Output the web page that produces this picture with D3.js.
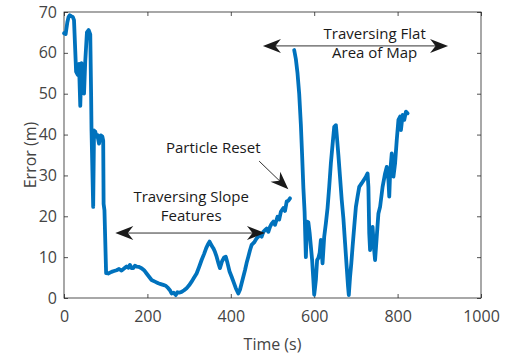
<!DOCTYPE html>
<html>
<head>
<meta charset="utf-8">
<script src="https://cdn.jsdelivr.net/npm/d3@7"></script>
<style>
  html, body { margin: 0; padding: 0; background: #fff; }
  svg { display: block; font-family: "Open Sans", sans-serif; }
</style>
</head>
<body>
<svg id="chart" width="507" height="356"></svg>
<script>
// Localisation error over time; null marks the particle reset (break in the trace).
const timeS = [
  0, 4, 8, 11, 14, 17, 21, 24, 29, 33, 36, 39, 42, 45, 48, 51, 55, 59, 63, 65, 66, 70, 72, 75, 78, 80, 84, 88, 92, 94, 95, 97, 101,
  106, 114, 120, 126, 132, 138, 144, 150, 154, 158, 162, 166, 170, 174, 180, 186, 192, 198, 204, 210, 218, 226, 232, 238, 244, 250, 254, 258, 263, 268, 272, 276, 282, 288, 294, 300, 306, 312, 318, 324, 330, 336, 341, 345, 349, 353, 358, 362, 366, 370, 374, 379, 384, 388, 392, 397, 402, 407, 412, 418, 422, 426, 430, 434, 438, 442, 446, 450, 456, 462, 466, 470, 474, 478, 482, 486, 490, 494, 498, 502, 506, 512, 516, 520, 526, 530, 534, 538, 542,
  null,
  552, 556, 560, 564, 568, 571, 574, 577, 580, 583, 586, 589, 592, 595, 598, 600, 602, 604, 607, 610, 613, 616, 620, 624, 628, 632, 636, 640, 644, 648, 652, 654, 658, 662, 666, 670, 674, 678, 681, 683, 686, 689, 692, 696, 700, 704, 708, 714, 719, 724, 728, 730, 732, 734, 737, 740, 743, 746, 750, 754, 758, 764, 770, 774, 778, 780, 782, 786, 790, 794, 798, 802, 806, 808, 812, 816, 820, 824
];
const errorM = [
  64.8, 64.6, 67.5, 68.8, 69.2, 69.0, 68.8, 68.0, 55.4, 54.6, 57.3, 47.0, 57.5, 55.0, 50.0, 58.0, 65.0, 65.6, 64.5, 50.0, 41.0, 22.3, 41.0, 40.7, 39.5, 39.9, 37.8, 39.8, 39.5, 38.5, 23.0, 21.5, 6.1,
  6.0, 6.4, 6.6, 6.8, 7.1, 6.7, 7.2, 7.7, 7.4, 8.1, 7.3, 7.3, 7.9, 7.7, 7.6, 7.3, 6.8, 6.0, 5.2, 4.4, 4.0, 3.6, 3.4, 3.2, 3.0, 2.4, 1.9, 1.1, 1.3, 0.7, 1.4, 1.3, 1.5, 1.9, 2.4, 3.1, 4.0, 5.0, 6.0, 7.6, 9.3, 10.8, 12.2, 13.1, 13.8, 13.0, 12.2, 11.3, 10.1, 8.6, 7.3, 9.0, 9.9, 10.1, 8.6, 6.5, 5.2, 3.8, 2.4, 1.1, 2.0, 3.6, 5.2, 6.8, 8.6, 10.1, 11.7, 13.0, 13.6, 14.6, 15.0, 15.4, 15.0, 16.2, 16.6, 17.0, 16.2, 17.4, 18.2, 18.7, 17.9, 19.9, 19.2, 21.1, 22.0, 21.3, 23.6, 23.8, 24.4,
  null,
  60.7, 58.5, 55.0, 50.0, 42.5, 35.0, 27.0, 21.0, 10.0, 18.7, 18.5, 16.0, 12.6, 9.3, 4.4, 0.8, 2.5, 4.4, 9.3, 9.8, 11.0, 14.2, 8.5, 15.0, 18.3, 22.0, 27.2, 33.0, 37.5, 41.9, 42.3, 40.0, 35.0, 29.5, 24.0, 19.5, 13.5, 7.5, 3.0, 0.7, 5.2, 8.5, 12.5, 17.5, 22.3, 24.8, 27.2, 28.1, 28.9, 29.7, 30.5, 27.2, 15.8, 11.7, 15.0, 17.4, 12.6, 9.3, 15.0, 20.7, 22.3, 27.2, 30.5, 32.1, 28.9, 24.8, 30.5, 35.4, 29.7, 33.0, 38.7, 43.6, 44.4, 41.1, 44.8, 43.6, 45.6, 45.2
];

const xTicks = [0, 200, 400, 600, 800, 1000];
const yTicks = [0, 10, 20, 30, 40, 50, 60, 70];

const xLabel = "Time (s)";
const yLabel = "Error (m)";

// Annotations: [text lines], position in data units
const notes = [
  { lines: ["Traversing Flat", "Area of Map"], t: 745, e: 63.5 },
  { lines: ["Particle Reset"], t: 358, e: 35.5 },
  { lines: ["Traversing Slope", "Features"], t: 305, e: 23.5 }
];
// Double-headed span arrows: time range at a given error level
const spans = [
  { t0: 477, t1: 921, e: 61.7 },
  { t0: 123, t1: 482, e: 15.9 }
];
// Single arrow pointing at the reset
const pointer = { t0: 468, e0: 33.5, t1: 538, e1: 26.6 };

const W = 507, H = 356;
const margin = { top: 12, right: 26, bottom: 58, left: 64 };
const iw = W - margin.left - margin.right;
const ih = H - margin.top - margin.bottom;

const svg = d3.select("#chart");
const g = svg.append("g").attr("transform", `translate(${margin.left},${margin.top})`);

const x = d3.scaleLinear().domain([0, 1000]).range([0, iw]);
const y = d3.scaleLinear().domain([0, 70]).range([ih, 0]);

const axisColor = "#262626";
const labelColor = "#444";

// Axes with inward ticks on all four sides
const gx = g.append("g").attr("transform", `translate(0,${ih})`)
  .call(d3.axisBottom(x).tickValues(xTicks).tickSize(-4).tickPadding(13).tickFormat(d3.format("d")));
const gxTop = g.append("g")
  .call(d3.axisTop(x).tickValues(xTicks).tickSize(-4).tickFormat(""));
const gy = g.append("g")
  .call(d3.axisLeft(y).tickValues(yTicks).tickSize(-4).tickPadding(7).tickFormat(d3.format("d")));
const gyRight = g.append("g").attr("transform", `translate(${iw},0)`)
  .call(d3.axisRight(y).tickValues(yTicks).tickSize(-4).tickFormat(""));

[gx, gxTop, gy, gyRight].forEach(a => {
  a.select(".domain").remove();
  a.selectAll(".tick line").attr("stroke", axisColor).attr("stroke-width", 0.8);
  a.selectAll(".tick text").attr("fill", labelColor).style("font-size", "16px")
    .style("font-family", "'Open Sans', sans-serif");
});

g.append("rect")
  .attr("x", 0).attr("y", 0).attr("width", iw).attr("height", ih)
  .attr("fill", "none").attr("stroke", axisColor).attr("stroke-width", 0.8);

// Axis titles
svg.append("text")
  .attr("x", margin.left + x(500)).attr("y", 350)
  .attr("text-anchor", "middle").attr("fill", labelColor)
  .style("font-size", "16px").text(xLabel);

svg.append("text")
  .attr("transform", `translate(36,${margin.top + y(35)}) rotate(-90)`)
  .attr("text-anchor", "middle").attr("fill", labelColor)
  .style("font-size", "16px").text(yLabel);

// Error trace
const pts = timeS.map((t, i) => ({ t, e: errorM[i] }));
const line = d3.line()
  .defined(d => d.t !== null && d.e !== null)
  .x(d => x(d.t)).y(d => y(d.e));

g.append("path")
  .datum(pts)
  .attr("d", line)
  .attr("fill", "none")
  .attr("stroke", "#0072BD")
  .attr("stroke-width", 3.8)
  .attr("stroke-linejoin", "round")
  .attr("stroke-linecap", "round");

// Annotation text
const noteColor = "#1a1a1a";
notes.forEach(n => {
  const tx = g.append("text")
    .attr("x", x(n.t)).attr("y", y(n.e))
    .attr("text-anchor", "middle").attr("fill", noteColor)
    .style("font-size", "15px");
  n.lines.forEach((s, i) => {
    tx.append("tspan").attr("x", x(n.t)).attr("dy", i === 0 ? 0 : "1.27em").text(s);
  });
});

// Notched arrowhead drawn at a tip, pointing along angle a
function arrowHead(px, py, a) {
  const L = 18, Wd = 7, notch = 12.5;
  const ca = Math.cos(a), sa = Math.sin(a);
  const p = (u, v) => [px - u * ca - v * -sa, py - u * sa - v * ca];
  const pA = p(L, Wd), pB = p(notch, 0), pC = p(L, -Wd);
  g.append("path")
    .attr("d", `M${px},${py}L${pA[0]},${pA[1]}L${pB[0]},${pB[1]}L${pC[0]},${pC[1]}Z`)
    .attr("fill", noteColor);
}

spans.forEach(s => {
  const x0 = x(s.t0), x1 = x(s.t1), yy = y(s.e);
  g.append("line").attr("x1", x0 + 8).attr("x2", x1 - 8).attr("y1", yy).attr("y2", yy)
    .attr("stroke", noteColor).attr("stroke-width", 0.9);
  arrowHead(x1, yy, 0);
  arrowHead(x0, yy, Math.PI);
});

{
  const x0 = x(pointer.t0), y0 = y(pointer.e0), x1 = x(pointer.t1), y1 = y(pointer.e1);
  const a = Math.atan2(y1 - y0, x1 - x0);
  g.append("line").attr("x1", x0).attr("y1", y0)
    .attr("x2", x1 - 8 * Math.cos(a)).attr("y2", y1 - 8 * Math.sin(a))
    .attr("stroke", noteColor).attr("stroke-width", 0.9);
  arrowHead(x1, y1, a);
}
</script>
</body>
</html>
